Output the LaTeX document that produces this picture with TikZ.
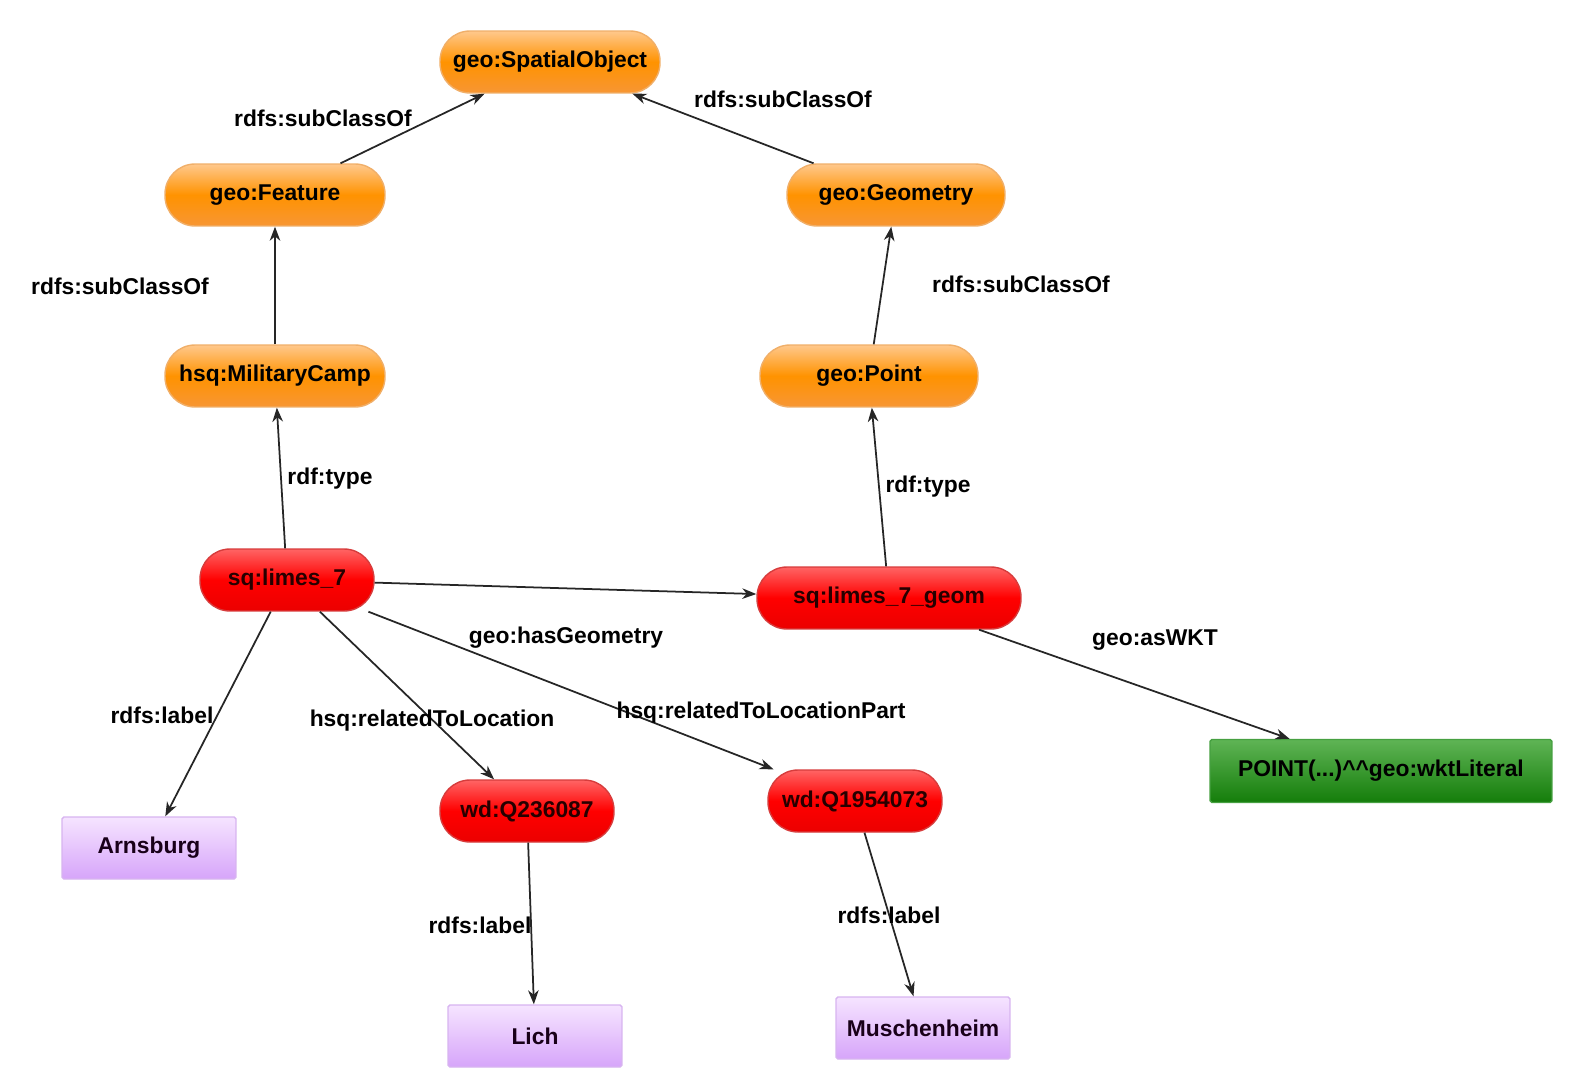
\documentclass[tikz,border=0pt]{standalone}
\usepackage{fontspec}
\setmainfont{Liberation Sans}
\usetikzlibrary{arrows.meta}
\definecolor{orangeTop}{RGB}{255,200,140}
\definecolor{orangeBot}{RGB}{247,150,52}
\definecolor{orangeLine}{RGB}{240,175,105}
\definecolor{redTop}{RGB}{255,100,100}
\definecolor{redBot}{RGB}{235,0,0}
\definecolor{redLine}{RGB}{215,60,60}
\definecolor{greenTop}{RGB}{95,180,85}
\definecolor{greenBot}{RGB}{20,125,10}
\definecolor{greenLine}{RGB}{70,160,65}
\definecolor{lilacTop}{RGB}{246,228,255}
\definecolor{lilacBot}{RGB}{214,165,250}
\definecolor{lilacLine}{RGB}{215,180,240}
\tikzset{>={Stealth[length=8pt,width=6pt,inset=2.5pt]},
every node/.style={font=\fontsize{13pt}{15pt}\selectfont\bfseries},
gclass/.style={draw=orangeLine, thick, top color=orangeTop, bottom color=orangeBot,
    middle color=orange!85!yellow, rounded corners=0.6cm, minimum height=1.24cm},
ginst/.style={draw=redLine, thick, top color=redTop, bottom color=redBot,
    middle color=red, rounded corners=0.6cm, minimum height=1.24cm,
    minimum width=3.48cm, text=black!85!red},
glit/.style={draw=lilacLine, thick, top color=lilacTop, bottom color=lilacBot,
    rounded corners=1pt, minimum height=1.24cm, minimum width=3.48cm, text=black!80!violet},
gwkt/.style={draw=greenLine, thick, top color=greenTop, bottom color=greenBot,
    rounded corners=1pt, minimum height=1.26cm, minimum width=6.84cm},
gedge/.style={->, line width=1pt, black!85},
}

\begin{document}
\begin{tikzpicture}[x=0.02cm, y=-0.02cm]
    \path[use as bounding box] (0,0) rectangle (1576,1088);
    \node[gclass, minimum width=4.4cm] (spatial) at (550,62) {geo:SpatialObject};
    \node[gclass, minimum width=4.4cm] (feature) at (275,195) {geo:Feature};
    \node[gclass, minimum width=4.36cm] (geometry) at (896,195) {geo:Geometry};
    \node[gclass, minimum width=4.4cm] (camp) at (275,376) {hsq:MilitaryCamp};
    \node[gclass, minimum width=4.36cm] (point) at (869,376) {geo:Point};
    \node[ginst] (limes) at (287,580) {sq:limes\_7};
    \node[ginst, minimum width=5.28cm] (geom) at (889,598) {sq:limes\_7\_geom};
    \node[ginst] (lich) at (527,811) {wd:Q236087};
    \node[ginst] (musch) at (855,801) {wd:Q1954073};
    \node[gwkt] (wkt) at (1381,771) {POINT(...)\^{}\^{}geo:wktLiteral};
    \node[glit] (arnsLit) at (149,848) {Arnsburg};
    \node[glit] (lichLit) at (535,1036) {Lich};
    \node[glit] (muschLit) at (923,1028) {Muschenheim};

    \draw[gedge] (feature) -- (spatial);
    \draw[gedge] (geometry) -- (spatial);
    \draw[gedge] (camp) -- (feature);
    \draw[gedge] (point) -- (geometry);
    \draw[gedge] (limes) -- (camp);
    \draw[gedge] (geom) -- (point);
    \draw[gedge] (limes) -- (geom);
    \draw[gedge] (geom) -- (wkt);
    \draw[gedge] (limes) -- (arnsLit);
    \draw[gedge] (limes) -- (lich);
    \draw[gedge] (limes) -- (musch);
    \draw[gedge] (lich) -- (lichLit);
    \draw[gedge] (musch) -- (muschLit);

    \node (subA) at (323,118) {rdfs:subClassOf};
    \node (subB) at (783,99) {rdfs:subClassOf};
    \node (subC) at (120,286) {rdfs:subClassOf};
    \node (subD) at (1021,284) {rdfs:subClassOf};
    \node (typeA) at (330,479) {rdf:type};
    \node (typeB) at (928,487) {rdf:type};
    \node (hasGeom) at (566,638) {geo:hasGeometry};
    \node (asWkt) at (1155,640) {geo:asWKT};
    \node (labelA) at (162,715) {rdfs:label};
    \node (relLoc) at (432,721) {hsq:relatedToLocation};
    \node (relPart) at (761,713) {hsq:relatedToLocationPart};
    \node (labelB) at (480,925) {rdfs:label};
    \node (labelC) at (889,915) {rdfs:label};
\end{tikzpicture}
\end{document}
